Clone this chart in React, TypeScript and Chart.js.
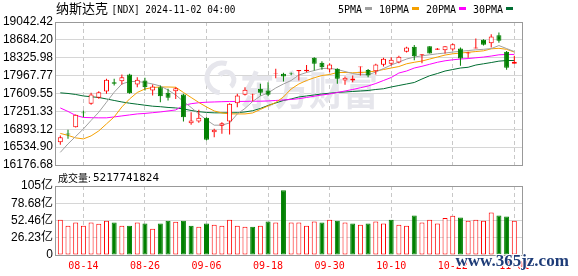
import React, { useEffect, useRef } from 'react';
import { Chart, registerables } from 'chart.js';

Chart.register(...registerables);

// ---------- data ----------
const dates = ['08-09','08-12','08-13','08-14','08-15','08-16','08-19','08-20','08-21','08-22','08-23','08-26','08-27','08-28','08-29','08-30','09-03','09-04','09-05','09-06','09-09','09-10','09-11','09-12','09-13','09-16','09-17','09-18','09-19','09-20','09-23','09-24','09-25','09-26','09-27','09-30','10-01','10-02','10-03','10-04','10-07','10-08','10-09','10-10','10-11','10-14','10-15','10-16','10-17','10-18','10-21','10-22','10-23','10-24','10-25','10-28','10-29','10-30','10-31','11-01'];
const xTickLabels = ['08-14','08-26','09-06','09-18','09-30','10-10','10-22','11-01'];

const opens = [16633,16808,16934,17230,17403,17523,17649,17836,17856,17990,17790,17870,17669,17736,17623,17656,17589,17014,17048,17122,16834,16962,17048,17415,17583,17583,17703,17669,18004,18004,18010,18055,18055,18325,18225,18092,18105,17870,17868,18138,18082,18055,18185,18205,18232,18444,18545,18378,18558,18485,18478,18492,18512,18412,18512,18685,18619,18779,18445,18205];
const highs = [16768,16882,17190,17269,17623,17655,17904,17904,17990,18004,17936,17923,17790,17770,17703,17736,17603,17235,17283,17134,16902,17034,17415,17603,17736,17603,17803,17836,18108,18024,18030,18082,18182,18338,18258,18218,18115,17950,17970,18151,18102,18205,18325,18338,18365,18545,18579,18398,18558,18520,18558,18612,18532,18445,18712,18699,18799,18832,18459,18365];
const lows = [16581,16702,16930,17134,17383,17503,17603,17770,17790,17603,17736,17669,17569,17435,17469,17500,17048,16982,17022,16667,16734,16802,16788,17335,17569,17455,17569,17556,17916,17850,17975,17870,18035,18069,18088,18035,17803,17783,17836,17970,17936,17990,18151,18171,18218,18432,18278,18218,18412,18480,18412,18465,18164,18325,18512,18572,18532,18625,18088,18205];
const closes = [16733,16790,17183,17215,17589,17635,17884,17806,17936,17615,17884,17736,17749,17556,17523,17716,17134,17068,17122,16681,16882,17014,17403,17569,17683,17597,17623,17583,18016,17950,17998,18082,18088,18205,18138,18191,17904,17923,17912,18151,17970,18191,18305,18285,18345,18532,18358,18398,18412,18512,18558,18599,18312,18432,18532,18585,18752,18665,18124,18245];

// volume in 亿
const volumes = [53.5,44.3,49.4,44.3,49.4,47.4,52,49.4,44.3,44.3,49.4,47.9,39.8,47.9,52,50.5,52,44.3,42.8,47.9,45.9,44.3,53.5,44.3,42.8,42.8,44.3,51,49.4,98.3,49.4,49.4,44.3,51,49.4,53.5,52,49.4,47.9,45.9,47.9,51,47.9,53.5,45.9,44.3,60.1,49.4,53.5,47.9,56.1,59.6,57.1,52,53.5,52,64.7,60.1,58.6,52.18];

const ma5 = [16430,16600,16750,16900,17070,17235,17435,17635,17800,17850,17850,17830,17800,17760,17680,17580,17450,17330,17200,17080,16975,16975,17020,17200,17310,17450,17560,17620,17720,17800,17870,17980,18030,18070,18110,18115,18090,18050,18010,17985,17985,18040,18110,18180,18240,18300,18340,18365,18385,18405,18420,18440,18455,18470,18485,18495,18510,18570,18510,18450];
const ma10 = [16810,16770,16720,16700,16760,16860,17000,17140,17340,17500,17630,17700,17730,17740,17740,17735,17630,17530,17430,17340,17260,17220,17200,17200,17200,17220,17290,17360,17430,17540,17700,17800,17870,17925,17970,17990,18030,18030,18025,18030,18040,18060,18090,18120,18150,18205,18235,18260,18300,18340,18380,18405,18420,18435,18450,18465,18505,18515,18495,18440];
const ma20 = [17320,17250,17170,17130,17125,17122,17122,17140,17160,17180,17200,17210,17225,17240,17260,17280,17370,17405,17425,17435,17440,17445,17450,17450,17452,17455,17455,17460,17470,17480,17490,17505,17530,17555,17580,17600,17630,17660,17690,17725,17760,17810,17870,17930,18020,18060,18120,18155,18195,18235,18265,18285,18300,18310,18325,18340,18360,18385,18392,18392];
const ma30 = [17623,17610,17590,17560,17545,17530,17500,17470,17440,17415,17395,17375,17355,17345,17330,17320,17300,17270,17245,17230,17222,17222,17222,17225,17240,17265,17310,17370,17420,17470,17500,17540,17560,17580,17600,17615,17630,17640,17650,17660,17670,17690,17705,17740,17770,17800,17830,17900,17965,18010,18060,18090,18120,18135,18180,18205,18230,18258,18270,18271];
const maLabels = ['5PMA','10PMA','20PMA','30PMA'];

const priceTickValues = [16176.68,16534.90,16893.12,17251.33,17609.55,17967.77,18325.98,18684.20,19042.42];
const priceTickLabels = ['16176.68','16534.90','16893.12','17251.33','17609.55','17967.77','18325.98','18684.20','19042.42'];
const volTickValues = [0,26.23,52.46,78.69,104.92];
const volTickLabels = ['0','26.23亿','52.46亿','78.68亿','105亿'];

const titleName = '纳斯达克';
const titleRest = '[NDX] 2024-11-02 04:00';
const volumeTitle = '成交量:';
const volumeValue = '5217741824';
const watermark = '东方财富';
const siteMark = 'www.365jz.com';

// ---------- styles ----------
const RED = '#ff0000';
const GREEN = '#008000';
const MA_COLORS = ['#a0a0a0', '#f5a000', '#ff00ff', '#006d32'];
const GRID = '#d6d6d6';
const VGRID = '#c8c8c8';
const BORDER = '#999999';
const AXIS_FONT = { family: '"Liberation Sans", "Noto Sans CJK SC", sans-serif', size: 12 };
const X_MIN = -0.69;
const X_MAX = 60.13;

const tickIdx = xTickLabels.map((l) => dates.indexOf(l));
const candleUp = closes.map((c, i) => c >= opens[i]);
const volUp = closes.map((c, i) => (i === 0 ? true : c >= closes[i - 1]));

function xScale(showLabels: boolean) {
  return {
    type: 'linear',
    min: X_MIN,
    max: X_MAX,
    offset: false,
    afterBuildTicks: (s: any) => {
      s.ticks = tickIdx.map((v) => ({ value: v }));
    },
    afterFit: (s: any) => {
      s.height = showLabels ? 21 : 0;
    },
    ticks: {
      display: showLabels,
      autoSkip: false,
      maxRotation: 0,
      padding: 5,
      color: RED,
      font: { family: '"DejaVu Sans Mono", monospace', size: 10 },
      callback: (_v: any, i: number) => xTickLabels[i],
    },
    grid: { color: VGRID, lineWidth: 1, drawTicks: false, offset: false },
    border: { display: false, dash: [4, 3] },
  };
}

function yScale(values: number[], labels: string[]) {
  return {
    type: 'linear',
    min: values[0],
    max: values[values.length - 1],
    afterBuildTicks: (s: any) => {
      s.ticks = values.map((v) => ({ value: v }));
    },
    afterFit: (s: any) => {
      s.width = 55;
    },
    ticks: {
      autoSkip: false,
      padding: 2,
      color: '#000',
      font: AXIS_FONT,
      callback: (_v: any, i: number) => labels[i],
    },
    grid: { color: GRID, drawTicks: false },
    border: { display: false },
  };
}

function frame(chart: any) {
  const { ctx, chartArea: a } = chart;
  ctx.save();
  ctx.strokeStyle = BORDER;
  ctx.lineWidth = 1;
  const l = Math.round(a.left);
  const t = Math.round(a.top);
  const r = Math.round(a.right);
  const b = Math.round(a.bottom);
  ctx.strokeRect(l + 0.5, t + 0.5, r - l - 1, b - t);
  ctx.restore();
}

const mainDecor = {
  id: 'mainDecor',
  beforeDatasetsDraw(chart: any) {
    const ctx = chart.ctx;
    ctx.save();
    ctx.fillStyle = '#e6e6ec';
    ctx.strokeStyle = '#e6e6ec';
    ctx.lineWidth = 5;
    ctx.beginPath();
    ctx.arc(222, 78, 15, Math.PI * 0.55, Math.PI * 1.6);
    ctx.stroke();
    ctx.beginPath();
    ctx.arc(226, 80, 8, Math.PI * 1.2, Math.PI * 2.3);
    ctx.stroke();
    ctx.font = 'bold 40px "Noto Sans CJK SC"';
    ctx.textBaseline = 'alphabetic';
    ctx.fillText(watermark, 240, 105, 138);
    ctx.restore();
  },
  afterDraw(chart: any) {
    frame(chart);
    const ctx = chart.ctx;
    ctx.save();
    ctx.fillStyle = '#000';
    ctx.textBaseline = 'alphabetic';
    ctx.font = '13px "Noto Sans CJK SC"';
    ctx.fillText(titleName, 56, 13);
    ctx.font = '10px "DejaVu Sans Mono"';
    ctx.fillText(titleRest, 111.5, 12.5, 124);
    // legend
    let x = 338;
    maLabels.forEach((lab, k) => {
      ctx.fillStyle = '#000';
      ctx.font = '10px "DejaVu Sans Mono"';
      ctx.fillText(lab, x, 12.5);
      const w = ctx.measureText(lab).width;
      ctx.fillStyle = MA_COLORS[k];
      ctx.fillRect(Math.round(x + w + 3), 7, 7, 3);
      x = Math.round(x + w + 3 + 7 + 7);
    });
    ctx.restore();
  },
};

const volDecor = {
  id: 'volDecor',
  afterDraw(chart: any) {
    frame(chart);
    const ctx = chart.ctx;
    ctx.save();
    ctx.fillStyle = '#000';
    ctx.textBaseline = 'alphabetic';
    ctx.font = '10px "Noto Sans CJK SC"';
    ctx.fillText(volumeTitle, 58, 11.5, 34);
    ctx.font = '11px "DejaVu Sans Mono"';
    ctx.fillText(volumeValue, 93, 11, 66);
    ctx.font = 'bold 17px "Liberation Serif"';
    ctx.lineWidth = 2;
    ctx.strokeStyle = '#ffffff';
    ctx.strokeText(siteMark, 455.5, 96, 116);
    ctx.fillStyle = '#1e3c78';
    ctx.fillText(siteMark, 455.5, 96, 116);
    ctx.restore();
  },
};

function mainConfig(): any {
  const maSets = [ma5, ma10, ma20, ma30].map((arr, k) => ({
    type: 'line',
    label: maLabels[k],
    data: arr.map((v, i) => ({ x: i, y: v })),
    borderColor: MA_COLORS[k],
    borderWidth: 1,
    pointRadius: 0,
    fill: false,
    tension: 0,
    order: 3,
  }));
  return {
    type: 'bar',
    data: {
      datasets: [
        ...maSets,
        {
          type: 'bar',
          label: 'wick',
          data: highs.map((h, i) => ({ x: i, y: [lows[i], h] })),
          backgroundColor: candleUp.map((u) => (u ? RED : GREEN)),
          borderWidth: 0,
          barThickness: 1,
          grouped: false,
          inflateAmount: 0,
          order: 2,
        },
        {
          type: 'bar',
          label: 'body',
          data: opens.map((o, i) => ({ x: i, y: [o, closes[i]] })),
          backgroundColor: candleUp.map((u) => (u ? '#ffffff' : GREEN)),
          borderColor: candleUp.map((u) => (u ? RED : GREEN)),
          borderWidth: 1,
          borderSkipped: false,
          barThickness: 5,
          grouped: false,
          inflateAmount: 0,
          order: 1,
        },
      ],
    },
    options: {
      responsive: false,
      animation: false,
      devicePixelRatio: 1,
      events: [],
      layout: { padding: { left: 0, right: 55, top: 22, bottom: 11 } },
      plugins: { legend: { display: false }, tooltip: { enabled: false } },
      scales: {
        x: xScale(false),
        y: yScale(priceTickValues, priceTickLabels),
      },
    },
    plugins: [mainDecor],
  };
}

function volConfig(): any {
  return {
    type: 'bar',
    data: {
      datasets: [
        {
          label: '成交量',
          data: volumes.map((v, i) => ({ x: i, y: v })),
          backgroundColor: volUp.map((u) => (u ? '#ffffff' : GREEN)),
          borderColor: volUp.map((u) => (u ? RED : GREEN)),
          borderWidth: 1,
          borderSkipped: false,
          barThickness: 5,
          grouped: false,
          inflateAmount: 0,
        },
      ],
    },
    options: {
      responsive: false,
      animation: false,
      devicePixelRatio: 1,
      events: [],
      layout: { padding: { left: 0, right: 55, top: 16, bottom: 0 } },
      plugins: { legend: { display: false }, tooltip: { enabled: false } },
      scales: {
        x: xScale(true),
        y: yScale(volTickValues, volTickLabels),
      },
    },
    plugins: [volDecor],
  };
}

export default function App() {
  const mainRef = useRef<HTMLCanvasElement>(null);
  const volRef = useRef<HTMLCanvasElement>(null);
  useEffect(() => {
    const main = new Chart(mainRef.current as HTMLCanvasElement, mainConfig());
    const vol = new Chart(volRef.current as HTMLCanvasElement, volConfig());
    return () => {
      main.destroy();
      vol.destroy();
    };
  }, []);
  return (
    <div style={{ position: 'fixed', left: 0, top: 0, width: 578, height: 276, background: '#fff' }}>
      <canvas ref={mainRef} width={578} height={176} style={{ position: 'absolute', left: 0, top: 0 }} />
      <canvas ref={volRef} width={578} height={106} style={{ position: 'absolute', left: 0, top: 170 }} />
    </div>
  );
}
